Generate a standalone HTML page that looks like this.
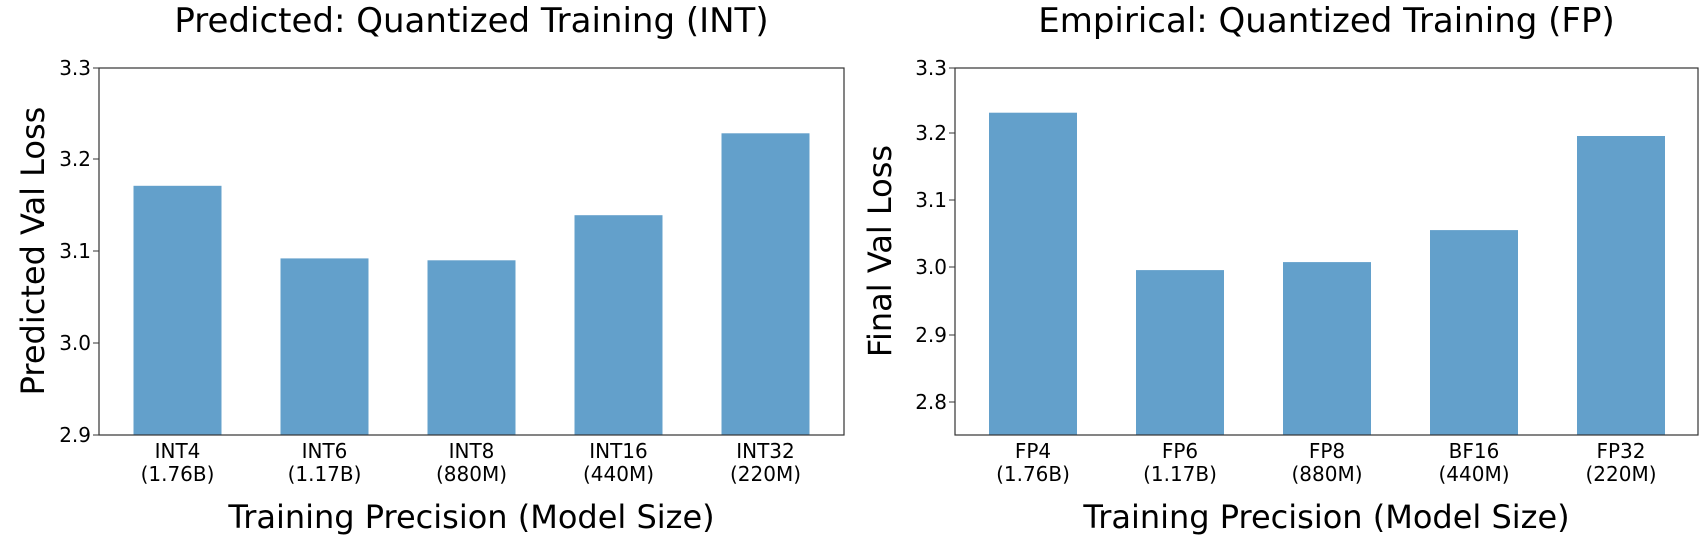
<!DOCTYPE html>
<html><head><meta charset="utf-8"><style>body{margin:0;background:#fff}</style></head><body>
<svg width="1704" height="538" xmlns="http://www.w3.org/2000/svg" font-family="DejaVu Sans, Liberation Sans, sans-serif" fill="#000">
<g>
<rect x="133.5" y="185.8" width="88" height="249.2" fill="#63a0cb"/>
<rect x="280.5" y="258.4" width="88" height="176.6" fill="#63a0cb"/>
<rect x="427.5" y="260.3" width="88" height="174.7" fill="#63a0cb"/>
<rect x="574.5" y="215.2" width="88" height="219.8" fill="#63a0cb"/>
<rect x="721.5" y="133.3" width="88" height="301.7" fill="#63a0cb"/>
<rect x="99" y="68" width="745" height="367" fill="none" stroke="#333" stroke-width="1.2"/>
<g font-size="20" text-anchor="end">
<text x="91" y="75">3.3</text><line x1="93" x2="99" y1="68" y2="68" stroke="#333"/>
<text x="91" y="166">3.2</text><line x1="93" x2="99" y1="159" y2="159" stroke="#333"/>
<text x="91" y="258">3.1</text><line x1="93" x2="99" y1="251" y2="251" stroke="#333"/>
<text x="91" y="350">3.0</text><line x1="93" x2="99" y1="343" y2="343" stroke="#333"/>
<text x="91" y="442">2.9</text><line x1="93" x2="99" y1="435" y2="435" stroke="#333"/>
</g>
<g font-size="20" text-anchor="middle">
<text x="177.5" y="458">INT4</text><text x="177.5" y="481">(1.76B)</text>
<text x="324.5" y="458">INT6</text><text x="324.5" y="481">(1.17B)</text>
<text x="471.5" y="458">INT8</text><text x="471.5" y="481">(880M)</text>
<text x="618.5" y="458">INT16</text><text x="618.5" y="481">(440M)</text>
<text x="765.5" y="458">INT32</text><text x="765.5" y="481">(220M)</text>
</g>
<text x="471.5" y="528" font-size="32" text-anchor="middle">Training Precision (Model Size)</text>
<text x="471.5" y="32" font-size="34" text-anchor="middle">Predicted: Quantized Training (INT)</text>
<text transform="translate(44,251) rotate(-90)" font-size="32" text-anchor="middle">Predicted Val Loss</text>
</g>
<g>
<rect x="989" y="112.7" width="88" height="322.3" fill="#63a0cb"/>
<rect x="1136" y="270.1" width="88" height="164.9" fill="#63a0cb"/>
<rect x="1283" y="262.1" width="88" height="172.9" fill="#63a0cb"/>
<rect x="1430" y="230.1" width="88" height="204.9" fill="#63a0cb"/>
<rect x="1577" y="136.0" width="88" height="299.0" fill="#63a0cb"/>
<rect x="955" y="68" width="743" height="367" fill="none" stroke="#333" stroke-width="1.2"/>
<g font-size="20" text-anchor="end">
<text x="947" y="75">3.3</text><line x1="949" x2="955" y1="68" y2="68" stroke="#333"/>
<text x="947" y="140">3.2</text><line x1="949" x2="955" y1="133" y2="133" stroke="#333"/>
<text x="947" y="207">3.1</text><line x1="949" x2="955" y1="200" y2="200" stroke="#333"/>
<text x="947" y="274">3.0</text><line x1="949" x2="955" y1="267" y2="267" stroke="#333"/>
<text x="947" y="342">2.9</text><line x1="949" x2="955" y1="335" y2="335" stroke="#333"/>
<text x="947" y="409">2.8</text><line x1="949" x2="955" y1="402" y2="402" stroke="#333"/>
</g>
<g font-size="20" text-anchor="middle">
<text x="1033" y="458">FP4</text><text x="1033" y="481">(1.76B)</text>
<text x="1180" y="458">FP6</text><text x="1180" y="481">(1.17B)</text>
<text x="1327" y="458">FP8</text><text x="1327" y="481">(880M)</text>
<text x="1474" y="458">BF16</text><text x="1474" y="481">(440M)</text>
<text x="1621" y="458">FP32</text><text x="1621" y="481">(220M)</text>
</g>
<text x="1326.5" y="528" font-size="32" text-anchor="middle">Training Precision (Model Size)</text>
<text x="1326.5" y="32" font-size="34" text-anchor="middle">Empirical: Quantized Training (FP)</text>
<text transform="translate(891,251) rotate(-90)" font-size="32" text-anchor="middle">Final Val Loss</text>
</g>
</svg>
</body></html>
